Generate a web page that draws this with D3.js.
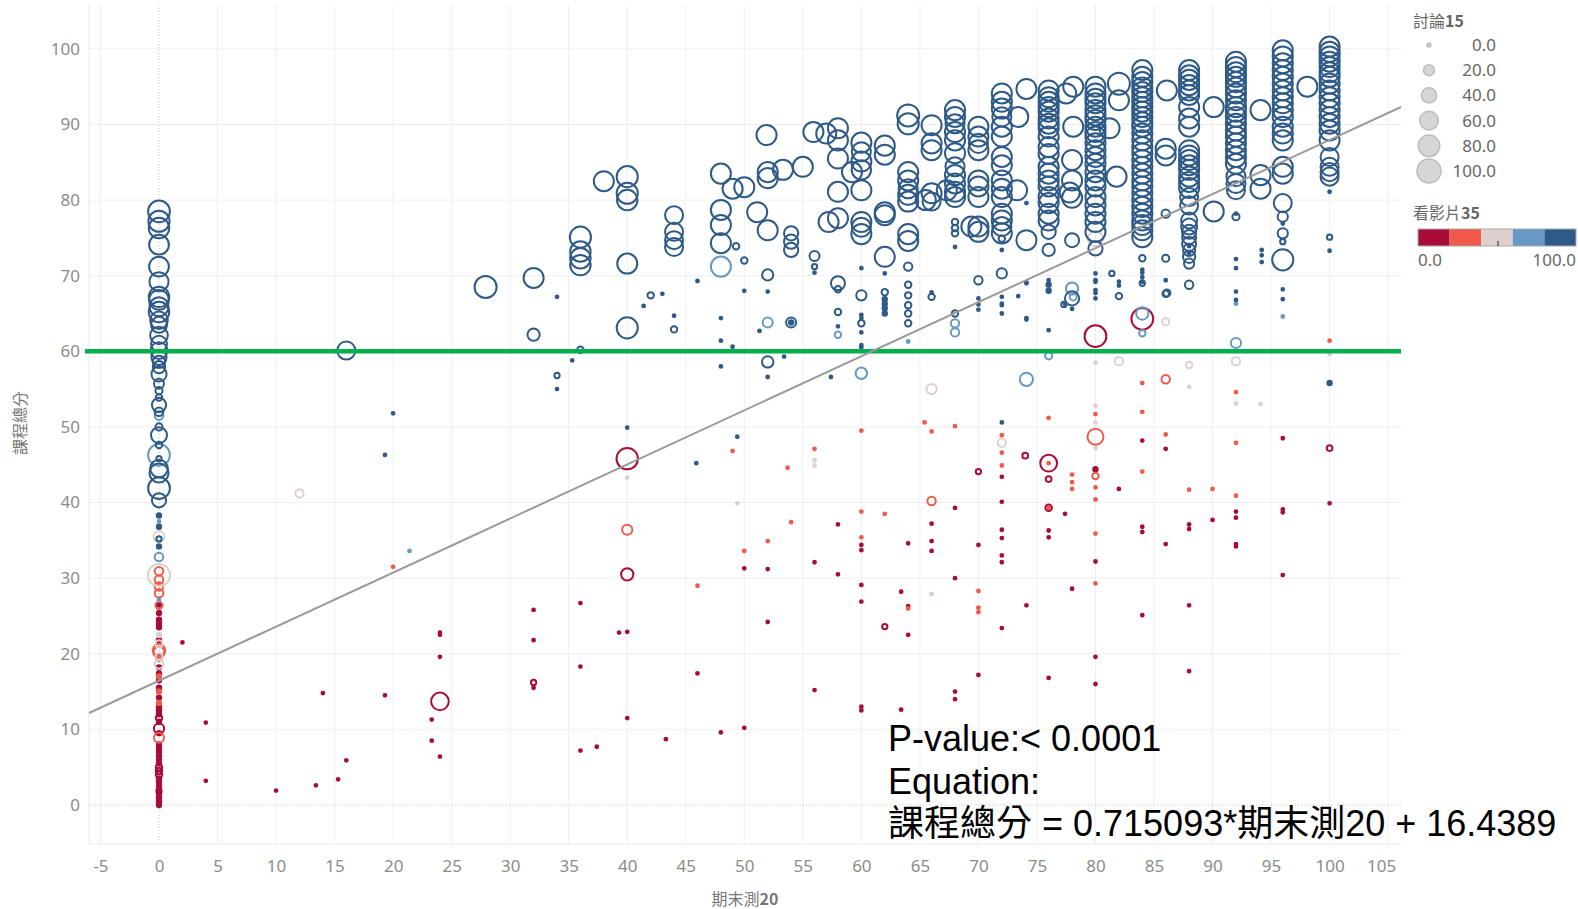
<!DOCTYPE html>
<html>
<head>
<meta charset="utf-8">
<script src="https://cdn.jsdelivr.net/npm/d3@7"></script>
<style>
  body { margin: 0; background: #fff; }
  svg { display: block; }
</style>
</head>
<body>
<svg id="chart" width="1578" height="909"></svg>
<script>
// each point: [期末測20, 課程總分, 討論15]; one array per 看影片35 band
var video0to20 = [
  [0,25.4,3],[0,24.5,3],[0,23.5,3],[0,21.8,3],[0,19.5,8],[0,17.4,3],[0,16.5,3],[0,14.2,3],[0,12.5,3],
  [0,11.5,8],[0,10.1,21],[0,9.5,3],[0,7.5,3],[0,7,3],[0,6.5,3],[0,6,3],[0,5.5,3],[0,5,8],[0,4.5,8],
  [0,4,8],[0,3.5,3],[0,3,3],[0,2.5,3],[0,2,3],[0,1.5,3],[0,1,3],[0,0.5,3],[0,0,3],[0,12,3],[0,13,3],
  [0,11,3],[0,8,3],[0,1.8,5],[0,26.5,3],[0,24,3],[0,15.5,3],[0,18.2,3],
  [2,21.5,0],[32,25.8,0],[32,21.8,0],[24,22.5,0],[24,22.8,0],[24,19.6,0],[32,16.2,5],[32,15.5,0],
  [24,13.7,60],[14,14.8,0],[19.3,14.5,0],[4,10.9,0],[23.3,11.3,0],[23.3,8.5,0],[24,6.4,0],[16,5.9,0],
  [4,3.2,0],[15.3,3.4,0],[13.4,2.6,0],[10,1.9,0],[36,26.7,0],[36,18.3,0],[36,7.2,0],
  [40,45.8,87],[40,30.5,30],[70,44.1,5],[68,39.3,0],[58,37.1,0],[66,37.2,0],[66,34.9,0],[66,33.6,0],
  [64,34.6,0],[70,34.4,0],[60,34.4,0],[60,33.7,0],[50,31.3,0],[52,31.2,0],[56,32.1,0],[58,30.5,0],
  [68,30,0],[60,29.1,0],[60,26.9,0],[63.4,28.2,0],[64,26.3,0],[52,24.2,0],[62,23.6,5],[64,22.5,0],
  [39.3,22.8,0],[40,22.9,0],[46,17.4,0],[56,15.2,0],[70,17.2,0],[68,15,0],[68,14,0],[60,13,0],
  [60,12.5,0],[63.4,12.6,0],[40,11.5,0],[43.3,8.7,0],[48,9.6,0],[50,10.2,0],[37.4,7.7,0],
  [80,62,90],[84,64.3,90],[72,43.4,0],[72,40.1,0],[72,36.4,0],[72,35.3,0],[72,33,0],[72,32.1,0],
  [72,23.4,0],[86,47.1,0],[84,48.2,0],[96,48.5,0],[100,47.2,6],[74,46.2,6],[76,45.2,55],[76,43.1,6],
  [80,44.4,3],[82,41.8,0],[76,39.3,8],[77.4,38.5,0],[76,36.3,0],[76,35.4,0],[84,36.8,0],[84,36.1,0],
  [88,37.1,0],[88,36.5,0],[90,37.7,0],[92,38.8,0],[92,38,0],[96,39.1,0],[96,38.7,0],[100,39.9,0],
  [86,34.5,0],[92,34.5,0],[92,34.2,0],[80,32.2,0],[96,30.4,0],[78,28.6,0],[74.1,26.4,0],[88,26.4,0],
  [84,25.1,0],[80,19.6,0],[80,16,0],[76,16.8,0],[88,17.7,0]
];

var video20to40 = [
  [0,30.9,15],[0,29.8,15],[0,28.9,15],[0,28,15],[0,26.4,10],[0,20.5,30],[0,20.2,25],[0,8.9,20],
  [0,15,3],[0,17,3],[0,13.5,3],
  [20,31.5,0],[49,46.8,0],[56,47.1,0],[53.7,44.6,0],[60,49.5,0],[65.4,50.6,0],[66,49.4,0],[68,50.1,0],
  [40,36.4,21],[66,40.2,14],[60,38.8,0],[62,38.5,0],[54,37.4,0],[52,34.9,0],[60,35.4,0],[50,33.6,0],
  [46,29,0],[70,28.3,0],[64,26,0],[70,26.1,0],[70,25.5,0],
  [100,61.4,0],[86,56.3,14],[84,55.8,0],[92,54.6,0],[84,52,0],[80,51.7,0],[76,51.2,0],[80,48.7,50],
  [72,48.9,0],[72,46.6,0],[72,44.9,0],[86,49,0],[92,47.9,0],[76,45.2,0],[78,43.7,0],[78,42.7,0],
  [78,41.8,0],[80,43.5,8],[80,42,0],[80,40.4,0],[84,44.1,0],[88,41.7,0],[90,41.8,0],[92,40.9,0],
  [76,39.3,0],[80,35.9,0],[80,29.3,0]
];

var video40to60 = [
  [0,30.4,95],[0,35.5,25],[0,21.3,10],[0,19.6,10],[0,18.6,15],[0,22.5,3],
  [12,41.2,14],[40,43.3,0],[56,45.6,0],[56,44.9,0],[49.4,39.9,0],[66,55,21],[66,27.9,0],
  [80,74.9,45],[86,63.9,10],[80,58.5,0],[82,58.7,14],[88,58.2,8],[92,58.7,14],[100,59.6,0],
  [88,55.3,0],[92,53.1,0],[94.1,53,0],[80,52.8,0],[80,50.6,0],[80,47.2,0],[72,47.9,14]
];

var video60to80 = [
  [0,46.3,90],[0,51.5,15],[0,32.8,15],[0,37.5,0],[0,27.1,0],
  [21.4,33.6,0],[60,57.1,26],[64,61.3,0],[48,71.2,77],[52,63.8,20],[58,62.2,8],
  [78,68.3,30],[84,65,30],[84,62.4,8],[92,61.1,21],[76,59.4,10],[74.1,56.3,35],[92,66.3,0],
  [96,64.6,0],[68,63.7,14],[68,62.5,14],[78.1,67.2,10]
];

var video80to100 = [
  // 期末測 = 0
  [0,78.5,90],[0,77.2,85],[0,76.3,80],[0,74.1,75],[0,71.2,75],[0,69.2,70],[0,67.2,80],[0,66.8,75],
  [0,65.9,70],[0,65.2,80],[0,64.1,60],[0,63.5,50],[0,62.1,60],[0,61,50],[0,60.1,55],[0,59.2,45],
  [0,58.6,30],[0,57.9,30],[0,57,45],[0,55.7,20],[0,54.8,10],[0,53.9,8],[0,52.9,40],[0,52,15],
  [0,50,10],[0,48.9,50],[0,47.6,8],[0,43.9,70],[0,41.9,90],[0,40.3,40],[0,44.5,60],[0,45.8,5],
  [0,38.3,3],[0,36.8,3],[0,35.2,5],[0,34.2,3],
  // 期末測 < 60
  [16,60.1,63],[35.3,58.8,0],[34,56.8,5],[34,55,0],[20,51.8,0],[19.3,46.3,0],
  [48,58,0],[49,60.6,0],[52,56.6,0],[53.4,59.3,0],[52,58.6,26],[57.4,56.6,0],[60,60.5,0],
  [40,49.9,0],[49.4,48.7,0],[45.9,45.2,0],
  [27.9,68.5,92],[32,69.7,77],[32,62.2,30],[34,67.2,0],[36,75.1,85],[36,73.2,80],[36,72.3,80],
  [36,71.4,80],[36,60.2,8],[38,82.5,77],[40,83.1,85],[40,80.9,85],[40,80,80],[40,71.6,77],[40,63.1,85],
  [42,67.4,8],[41.4,66,0],[43,67.6,0],[44,64.7,0],[44,62.9,8],[44,78,63],[44,75.8,63],[44,74.7,63],
  [44,73.8,63],[46,69.3,0],[48,83.5,77],[48,78.7,77],[48,76.7,77],[48,74.3,77],[48,64.4,0],[48,61.4,0],
  [49.3,73.9,8],[49,81.5,77],[50,81.7,77],[50,72,8],[50,68,0],[52,83.7,77],[52,82.9,77],[52,70.1,25],
  [52,67.9,0],[51.1,78.4,77],[52,76,77],[51.3,62.7,0],[51.9,88.6,77],[53.3,84,77],[55,84.4,77],
  [54,75.6,40],[54,74.5,40],[54,73.4,40],[54,63.8,20],[54,63.8,3],[56,72.6,20],[56,71.2,5],[56,70.4,0],
  [55.9,89,77],[57,88.8,77],[58,89.5,77],[58,87.9,77],[58,85.5,77],[58,81.1,77],[58,77.6,77],
  [57.2,77.1,77],[58,69,39],[58,68.2,8],[58,65.2,8],[58,63.3,0],
  // 期末測 60 - 78
  [60,87.6,77],[60,86.4,70],[60,85.1,77],[60,84,72],[60,81.3,77],[60,77.1,77],[60,76.4,70],[60,75.5,77],
  [60,67.4,21],[60,64.8,0],[60,64.4,0],[60,63.7,8],[60,62.5,0],[60,60.8,0],[60,71,0],
  [59.2,83.7,77],[62,78.4,77],[62,78,77],[62,70.3,0],[62,67.8,8],[62,66.9,3],[62,66.3,3],[62,65.7,3],
  [62,65,3],[62,72.5,77],[62,87.2,77],[62,86,77],
  [64,91.2,92],[64,90.1,85],[64,83.7,77],[64,82.6,77],[64,81.5,70],[64,80.7,77],[64,79.8,77],[64,75.5,77],
  [64,74.6,77],[64,71.2,14],[64,68.8,8],[64,67.4,8],[64,66.1,8],[64,65,8],[64,63.7,8],
  [65.5,80,77],[66,89.9,77],[66,87.5,77],[66,86.6,77],[66,67.2,8],[66,67.8,0],[66,80.9,77],[67.3,81.3,77],
  [66,79.8,63],
  [68,91.9,77],[68,91,77],[68,90.1,70],[68,89,77],[68,87.9,77],[68,86.2,77],[68,84.4,70],[68,83.3,77],
  [68,82.2,77],[68,81.1,77],[68,80.4,77],[68,77.1,8],[68,76.3,8],[68,75.6,8],[68,73.8,0],[68,65,8],
  [70,89.7,77],[70,88.4,77],[70,87.5,70],[70,86.6,77],[70,82.6,77],[70,81.8,77],[70,80.4,77],[70,76.5,77],
  [70,75.8,77],[70,69.4,14],[70,67,0],[70,65.5,0],[69.4,76.5,77],[70,66.2,0],
  [72,94.1,77],[72,93,77],[72,92.1,77],[72,91,70],[72,89.7,77],[72,88.4,77],[72,85.7,77],[72,84.6,77],
  [72,82.6,77],[72,81.5,77],[72,80.4,77],[72,78.2,77],[72,77.3,77],[72,76.5,70],[72,75.6,77],[72,74.9,8],
  [72,73.4,0],[72,70.3,21],[72,67.2,0],[72,66.3,0],
  [73.4,91,77],[74.1,94.7,77],[74.1,79.6,0],[73.3,81.3,77],[74.1,74.7,77],[74.1,69,0],[74.1,64.4,0],
  [74.1,69.1,0],[76,68.8,3],[76,68,3],[76,62.8,0],[74.1,64.2,0],[73.4,67.3,0],[72,66.1,0],[72,65,0],
  [76,94.5,77],[76,93.6,77],[76,93,77],[76,92.3,77],[76,91.7,77],[76,90.8,77],[76,90.1,77],[76,89.5,77],
  [76,88.4,77],[76,87,77],[76,86.1,77],[76,84.4,77],[76,83.5,77],[76,82.6,77],[76,81.8,77],[76,80.4,77],
  [76,79.6,77],[76,78.2,77],[76,77.3,77],[76,75.8,40],[76,73.4,30],[76,69.4,0],
  [77.5,94.1,77],[78.1,95,77],[78.1,89.7,77],[78,85.3,77],[78,82.6,77],[77.8,81,77],[78,80.3,77],
  [78,74.7,39],[77.4,66.3,0],[78,67,40],[77.3,66.2,5],[78,65.6,0],
  // 期末測 80 - 100
  [80,95,77],[80,94.1,77],[80,93.4,77],[80,92.8,77],[80,91.9,77],[80,91.2,77],[80,90.6,77],[80,89.7,77],
  [80,89,77],[80,88.4,77],[80,87.5,77],[80,86.6,77],[80,85.7,77],[80,84.8,77],[80,83.7,77],[80,82.6,77],
  [80,81.8,77],[80,80.4,77],[80,79.3,77],[80,78.2,77],[80,77.1,77],[80,75.8,77],[80,73.6,40],
  [80,70.3,0],[80,69.4,0],[80,68.1,0],[80,69.2,0],[80,67.7,0],[80,67,0],
  [82,95.4,92],[82,93.2,77],[81.2,89.5,77],[81.8,83.1,77],[81.4,70.3,5],[82,69.2,0],[82,68.7,0],[82,67.3,8],
  [84,97.2,77],[84,96.3,77],[84,95.6,77],[84,94.9,77],[84,94.3,77],[84,93.6,77],[84,93,77],[84,92.3,77],
  [84,91.7,77],[84,91,77],[84,90.3,77],[84,89.7,77],[84,88.8,77],[84,87.9,77],[84,87,77],[84,86.2,77],
  [84,85.3,77],[84,84.4,77],[84,83.5,77],[84,82.6,77],[84,81.8,77],[84,80.9,77],[84,80,77],[84,79.1,77],
  [84,78.2,77],[84,77.3,77],[84,76.7,77],[84,76,77],[84,75.1,77],
  [84,72.3,8],[84,70.8,0],[84,70.4,0],[84,69.8,0],[84,69.2,0],[84,69,5],
  [86.1,94.5,77],[86,86.8,77],[86,85.9,77],[86,78.2,14],[86,72.3,10],[86,69.4,0],[86.1,67.7,10],[86,67.6,8],
  [88,97.2,77],[88,96.5,77],[88,95.9,77],[88,95.2,77],[88,94.5,77],[88,93.9,77],[88,92.3,77],[88,90.8,77],
  [88,89.7,77],[88,86.6,77],[88,85.9,77],[88,85.3,77],[88,84.6,77],[88,84,77],[88,83.1,77],[88,82.4,77],
  [88,81.6,77],[88,80.4,63],[88,79.3,63],[88,77.3,50],[88,76.5,50],[88,75.8,39],[88,75.1,39],[88,74.2,39],
  [88,73.4,30],[88,72.5,30],[88,71.6,21],[88,73.9,0],[88,73,0],[88,68.8,14],
  [90.1,92.3,77],[94.1,91.9,77],[98.1,95,77],[90.1,78.5,77],[94.1,83.3,77],[94.1,81.5,77],
  [92,98.3,77],[92,97.6,77],[92,96.9,77],[92,96.3,77],[92,95.6,77],[92,94.9,77],[92,94.1,77],[92,93.2,77],
  [92,92.3,77],[92,91.7,77],[92,91,77],[92,90.1,77],[92,89.2,77],[92,88.4,77],[92,87.5,77],[92,86.6,77],
  [92,85.7,77],[92,84.8,77],[92,83.1,70],[92,82.2,70],[92,81.3,63],
  [92,77.8,10],[92,78.2,0],[92,72.2,0],[92,71,0],[92,67.9,0],[92,66.8,0],
  [94.2,73.4,0],[94.2,72.7,0],[94.2,71.8,0],
  [96,99.8,77],[96,99,77],[96,98.1,77],[96,97.2,77],[96,96.3,77],[96,95.4,77],[96,94.5,77],[96,93.6,77],
  [96,92.8,77],[96,91.9,77],[96,91,77],[96,89.7,77],[96,88.8,77],[96,87.9,77],[96,84.4,77],[96,83.5,77],
  [96,79.6,63],[96,77.8,21],[96,75.6,21],[96,72.1,85],[96,74.5,5],[96,76.9,0],[96,68.2,0],[96,66.9,0],
  [100,100.3,77],[100,99.6,77],[100,99,77],[100,98.3,77],[100,97.6,77],[100,96.9,77],[100,96.3,77],
  [100,95.4,77],[100,94.5,77],[100,93.6,77],[100,92.8,77],[100,91.9,77],[100,91,77],[100,90.1,77],
  [100,89.2,77],[100,87.9,77],[100,85.7,63],[100,84.4,63],[100,83.7,63],[100,83.1,63],
  [100,81.1,0],[100,75.1,5],[100,73.3,0],[100,55.8,3],[72,50.6,0]
];

var videoBands = [10, 30, 50, 70, 90];
var bandPoints = [video0to20, video20to40, video40to60, video60to80, video80to100];
var bandColors = ["#a90c38", "#ef5a4a", "#ddd0cd", "#6699c3", "#2e5a87"];

var xTicks = [-5, 0, 5, 10, 15, 20, 25, 30, 35, 40, 45, 50, 55, 60, 65, 70, 75, 80, 85, 90, 95, 100, 105];
var yTicks = [0, 10, 20, 30, 40, 50, 60, 70, 80, 90, 100];
var sizeLegend = [0, 20, 40, 60, 80, 100];

var slope = 0.715093, intercept = 16.4389, passLine = 60;

var svg = d3.select("#chart");
var plotL = 89, plotR = 1401, plotT = 5, plotB = 844;

var x = d3.scaleLinear().domain([-5.98, 106.1]).range([plotL, plotR]);
var y = d3.scaleLinear().domain([-5.16, 105.8]).range([plotB, plotT]);
var r = d3.scaleRadial().domain([0, 100]).range([2.4, 12.5]);
var color = d3.scaleQuantize().domain([0, 100]).range(bandColors);

var g = svg.append("g");

// grid
g.selectAll(".vgrid").data(xTicks.filter(function(t) { return t !== 0; })).enter()
  .append("line")
  .attr("x1", function(d) { return x(d); }).attr("x2", function(d) { return x(d); })
  .attr("y1", plotT).attr("y2", plotB)
  .attr("stroke", "#efefef").attr("stroke-width", 1);
g.selectAll(".hgrid").data(yTicks.filter(function(t) { return t !== 0; })).enter()
  .append("line")
  .attr("x1", plotL).attr("x2", plotR)
  .attr("y1", function(d) { return y(d); }).attr("y2", function(d) { return y(d); })
  .attr("stroke", "#efefef").attr("stroke-width", 1);

g.append("line").attr("x1", plotL).attr("x2", plotL).attr("y1", plotT).attr("y2", plotB)
  .attr("stroke", "#e8e8e8");
g.append("line").attr("x1", plotL).attr("x2", plotR).attr("y1", plotB).attr("y2", plotB)
  .attr("stroke", "#e8e8e8");

// zero lines
g.append("line").attr("x1", x(0)).attr("x2", x(0)).attr("y1", plotT).attr("y2", plotB)
  .attr("stroke", "#c8c8c8").attr("stroke-dasharray", "1,2");
g.append("line").attr("x1", plotL).attr("x2", plotR).attr("y1", y(0)).attr("y2", y(0))
  .attr("stroke", "#c8c8c8").attr("stroke-dasharray", "1,2");

// axes tick labels
var plain = function(d) { return String(d); };
var xAxis = d3.axisBottom(x).tickValues(xTicks).tickFormat(plain).tickSize(0).tickPadding(16);
var xg = svg.append("g").attr("transform", "translate(0," + plotB + ")").call(xAxis);
xg.select(".domain").remove();
xg.selectAll("text").attr("font-family", "Noto Sans, sans-serif").attr("font-size", 17)
  .attr("fill", "#8c8c8c");
// last label is pulled in from the plot edge
xg.selectAll(".tick").filter(function(d) { return d === 105; }).select("text").attr("dx", -7);

var yAxis = d3.axisLeft(y).tickValues(yTicks).tickFormat(plain).tickSize(0).tickPadding(9);
var yg = svg.append("g").attr("transform", "translate(" + plotL + ",0)").call(yAxis);
yg.select(".domain").remove();
yg.selectAll("text").attr("font-family", "Noto Sans, sans-serif").attr("font-size", 17)
  .attr("fill", "#8c8c8c");

// axis titles
var xt = svg.append("text").attr("x", 745).attr("y", 905).attr("text-anchor", "middle")
  .attr("font-family", "Noto Sans CJK TC, sans-serif").attr("font-size", 16).attr("fill", "#777");
xt.append("tspan").text("期末測");
xt.append("tspan").attr("font-weight", "bold").text("20");

svg.append("text").attr("transform", "translate(26,423) rotate(-90)").attr("text-anchor", "middle")
  .attr("font-family", "Noto Sans CJK TC, sans-serif").attr("font-size", 16).attr("fill", "#777")
  .text("課程總分");

// marks: hollow rings, the smallest ones read as dots
var marks = svg.append("g");
bandPoints.forEach(function(pts, i) {
  var c = color(videoBands[i]);
  marks.selectAll(".b" + i).data(pts).enter()
    .append("circle")
    .attr("cx", function(d) { return x(d[0]); })
    .attr("cy", function(d) { return y(d[1]); })
    .attr("r", function(d) { return r(d[2]) - 1; })
    .attr("fill", function(d) { return r(d[2]) < 3.6 ? c : "none"; })
    .attr("stroke", c)
    .attr("stroke-width", 2);
});

// pass line
svg.append("line").attr("x1", 85).attr("x2", plotR)
  .attr("y1", y(passLine)).attr("y2", y(passLine))
  .attr("stroke", "#00b04f").attr("stroke-width", 4.5);

// trend line
var xd = x.domain();
svg.append("line")
  .attr("x1", x(xd[0])).attr("y1", y(slope * xd[0] + intercept))
  .attr("x2", x(xd[1])).attr("y2", y(slope * xd[1] + intercept))
  .attr("stroke", "#9a9a9a").attr("stroke-width", 2);

// legend: size
var lg = svg.append("g");
var lt = lg.append("text").attr("x", 1413).attr("y", 27)
  .attr("font-family", "Noto Sans CJK TC, sans-serif").attr("font-size", 16).attr("fill", "#666");
lt.append("tspan").text("討論");
lt.append("tspan").attr("font-weight", "bold").text("15");

lg.selectAll(".sz").data(sizeLegend).enter().append("circle")
  .attr("cx", 1429)
  .attr("cy", function(d, i) { return 45 + i * 25.2; })
  .attr("r", function(d) { return r(d) - 0.5; })
  .attr("fill", "#d6d6d6").attr("stroke", "#bdbdbd").attr("stroke-width", 1.5);
lg.selectAll(".szl").data(sizeLegend).enter().append("text")
  .attr("x", 1496)
  .attr("y", function(d, i) { return 51 + i * 25.2; })
  .attr("text-anchor", "end")
  .attr("font-family", "Noto Sans, sans-serif").attr("font-size", 17).attr("fill", "#666")
  .text(function(d) { return d.toFixed(1); });

// legend: colour
var ct = lg.append("text").attr("x", 1413).attr("y", 219)
  .attr("font-family", "Noto Sans CJK TC, sans-serif").attr("font-size", 16).attr("fill", "#666");
ct.append("tspan").text("看影片");
ct.append("tspan").attr("font-weight", "bold").text("35");

var barX = d3.scaleLinear().domain([0, 100]).range([1418, 1576]);
lg.selectAll(".cb").data(videoBands).enter().append("rect")
  .attr("x", function(d) { return barX(d - 10); })
  .attr("y", 229)
  .attr("width", barX(20) - barX(0))
  .attr("height", 17)
  .attr("fill", function(d) { return color(d); });
lg.append("rect").attr("x", 1418).attr("y", 229).attr("width", 158).attr("height", 17)
  .attr("fill", "none").attr("stroke", "#aaa").attr("stroke-width", 1);
lg.append("line").attr("x1", barX(50) + 1).attr("x2", barX(50) + 1).attr("y1", 241).attr("y2", 246)
  .attr("stroke", "#222");
lg.append("text").attr("x", 1418).attr("y", 266)
  .attr("font-family", "Noto Sans, sans-serif").attr("font-size", 17).attr("fill", "#666").text("0.0");
lg.append("text").attr("x", 1576).attr("y", 266).attr("text-anchor", "end")
  .attr("font-family", "Noto Sans, sans-serif").attr("font-size", 17).attr("fill", "#666").text("100.0");

// annotation
var notes = ["P-value:< 0.0001", "Equation:",
  "課程總分 = " + slope.toFixed(6) + "*期末測20 + " + intercept];
svg.selectAll(".note").data(notes).enter().append("text")
  .attr("x", 888)
  .attr("y", function(d, i) { return 751 + i * 42.5; })
  .attr("font-family", "Liberation Sans, Arial, Noto Sans CJK TC, sans-serif")
  .attr("font-size", 36).attr("fill", "#000")
  .text(function(d) { return d; });
</script>
</body>
</html>
